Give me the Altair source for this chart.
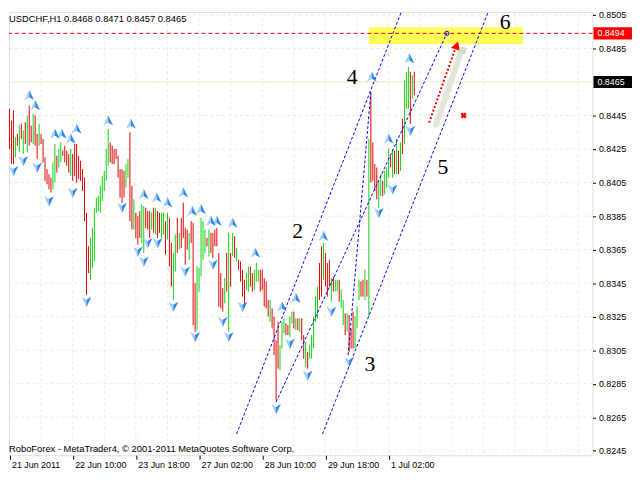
import altair as alt
import pandas as pd

# ---- bar data (price in pips, 0.0001) ----
highs = [
    8449, 8442, 8448, 8432, 8434, 8439, 8440, 8436, 8441, 8445,
    8451, 8439, 8446, 8445, 8434, 8440, 8434, 8431, 8420, 8413,
    8410, 8408, 8417, 8428, 8421, 8425, 8429, 8424, 8427, 8424,
    8422, 8425, 8422, 8428, 8428, 8421, 8418, 8413, 8408, 8387,
    8367, 8372, 8378, 8390, 8396, 8397, 8403, 8409, 8412, 8425,
    8437, 8429, 8427, 8425, 8425, 8421, 8413, 8413, 8412, 8416,
    8419, 8435, 8403, 8395, 8387, 8385, 8388, 8392, 8391, 8390,
    8388, 8388, 8387, 8390, 8390, 8388, 8387, 8387, 8387, 8382,
    8387, 8384, 8369, 8363, 8374, 8384, 8375, 8384, 8393, 8378,
    8377, 8375, 8382, 8381, 8345, 8355, 8354, 8384, 8382, 8377,
    8372, 8377, 8375, 8375, 8377, 8378, 8363, 8351, 8342, 8348,
    8363, 8375, 8363, 8375, 8373, 8366, 8359, 8358, 8353, 8347,
    8351, 8355, 8355, 8351, 8353, 8357, 8353, 8353, 8353, 8348,
    8346, 8335, 8335, 8330, 8325, 8311, 8322, 8308, 8322, 8324,
    8321, 8320, 8325, 8328, 8328, 8324, 8324, 8324, 8324, 8314,
    8310, 8304, 8308, 8314, 8325, 8337, 8343, 8357, 8367, 8369,
    8363, 8357, 8359, 8348, 8349, 8347, 8347, 8347, 8341, 8335,
    8327, 8327, 8326, 8318, 8328, 8325, 8331, 8347, 8346, 8347,
    8353, 8347, 8431, 8458, 8429, 8416, 8414, 8406, 8410, 8406,
    8412, 8414, 8425, 8421, 8425, 8424, 8431, 8424, 8429, 8443,
    8466, 8471, 8474, 8471, 8469, 8471,
]
lows = [
    8425, 8416, 8416, 8420, 8427, 8423, 8431, 8422, 8428, 8423,
    8427, 8429, 8428, 8427, 8419, 8427, 8428, 8417, 8406, 8404,
    8401, 8399, 8401, 8405, 8411, 8414, 8417, 8421, 8417, 8415,
    8411, 8409, 8406, 8409, 8405, 8407, 8406, 8400, 8382, 8338,
    8351, 8347, 8354, 8358, 8387, 8388, 8387, 8394, 8400, 8406,
    8415, 8417, 8416, 8416, 8419, 8408, 8396, 8393, 8396, 8402,
    8408, 8382, 8377, 8377, 8372, 8368, 8372, 8369, 8363, 8378,
    8377, 8372, 8377, 8375, 8374, 8372, 8375, 8372, 8374, 8362,
    8371, 8355, 8343, 8335, 8352, 8363, 8365, 8366, 8372, 8356,
    8365, 8359, 8369, 8320, 8316, 8317, 8340, 8349, 8359, 8363,
    8367, 8361, 8363, 8360, 8367, 8367, 8331, 8330, 8328, 8333,
    8340, 8316, 8343, 8361, 8360, 8358, 8353, 8346, 8337, 8331,
    8341, 8340, 8343, 8340, 8341, 8346, 8346, 8340, 8341, 8331,
    8330, 8325, 8322, 8318, 8302, 8275, 8294, 8293, 8306, 8315,
    8314, 8314, 8313, 8321, 8318, 8317, 8317, 8316, 8311, 8300,
    8295, 8294, 8300, 8300, 8306, 8322, 8324, 8335, 8337, 8347,
    8343, 8337, 8343, 8334, 8340, 8340, 8340, 8334, 8330, 8320,
    8314, 8316, 8304, 8306, 8306, 8306, 8318, 8335, 8337, 8337,
    8335, 8337, 8325, 8405, 8406, 8400, 8395, 8390, 8397, 8397,
    8398, 8402, 8408, 8414, 8408, 8410, 8410, 8410, 8412, 8422,
    8428, 8449, 8449, 8440, 8455, 8457,
]
dir_blocks = [
    "dddudududu", "dduddudddd", "dduuduuddd", "dudddddddd", "duuuuuuuuu",
    "uddddddddu", "udduddduud", "ddududduud", "udduududdd", "duddduuuuu",
    "dudddddddu", "dudududddd", "uudduuuddd", "ddudddduuu", "dduudududd",
    "uduuuuuddu", "ddduduuduu", "duddduuudd", "ududdddu" + "ud", "uuudududud",
    "uuudud",
]
dirs = list("".join(dir_blocks))

# fractal arrows (bar index, price in pips)
up_idx = [10, 13, 23, 26.5, 31, 34, 50, 61.5, 68, 74.5, 80, 88, 92.5, 97, 102, 105,
          113, 124.5, 138, 145, 159, 183.5, 192, 202.5]
up_val = [8457, 8451, 8434, 8434, 8431, 8437, 8442, 8440, 8398, 8396, 8393, 8399, 8388,
          8389, 8382, 8382, 8381, 8363, 8331, 8336, 8373, 8468, 8431, 8479]
dn_idx = [2, 7, 14, 20, 32, 39, 57, 65, 68, 70, 75, 83, 89, 94, 103, 108, 111, 118,
          135, 142, 151, 163, 172, 187, 194, 203]
dn_val = [8412, 8418, 8414, 8394, 8399, 8334, 8390, 8364, 8358, 8369, 8369, 8331, 8352,
          8313, 8356, 8322, 8313, 8331, 8270, 8309, 8290, 8328, 8298, 8387, 8401, 8436]

# channel lines
line_id = ["A", "A", "B", "B", "D", "D", "S", "S"]
line_x = [115, 199.5, 158.5, 243.5, 135, 221.5, 171.5, 183]
line_y = [8255, 8510, 8255, 8510, 8274, 8494, 8302, 8459]

# wave labels
wave_txt = ["2", "3", "4", "5", "6"]
wave_x = [146, 182.5, 173.5, 219.5, 251]
wave_y = [8376, 8297, 8468, 8414, 8501]

date_idx = [0, 32, 64, 96, 128, 160, 192]
date_lab = ["21 Jun 2011", "22 Jun 10:00", "23 Jun 18:00", "27 Jun 02:00",
            "28 Jun 10:00", "29 Jun 18:00", "1 Jul 02:00"]
grid_x = list(range(16, 296, 16))
y_ticks = [round(0.8245 + 0.002 * k, 4) for k in range(14)]

target_level = 0.8494
bid_level = 0.8465
header = "USDCHF,H1  0.8468 0.8471 0.8457 0.8465"
footer = "RoboForex - MetaTrader4, \u00a9 2001-2011 MetaQuotes Software Corp."

P = 10000.0
n = len(highs)
assert len(lows) == n and len(dirs) == n

bars = pd.DataFrame({"i": range(n), "high": [h / P for h in highs],
                     "low": [l / P for l in lows], "dir": dirs})

XD = [-0.25, 295.25]
YD = [0.824234, 0.850677]
xs = alt.Scale(domain=XD, nice=False, zero=False)
ys = alt.Scale(domain=YD, nice=False, zero=False)
FONT = "Liberation Sans"
GRID = "#efecd2"

label_expr = "[" + ",".join("'%s'" % d for d in date_lab) + "][round(datum.value / 32)]"
x_axis = alt.Axis(values=date_idx, labelExpr=label_expr, orient="bottom", grid=False,
                  domain=False, ticks=True, tickColor="black", tickSize=4,
                  labelAlign="left", labelBaseline="top", labelFont=FONT, labelFontSize=9,
                  labelColor="black", labelPadding=1, labelOffset=2, title=None,
                  labelFlush=False, labelOverlap=False, zindex=1)
# the bid level carries its own boxed label, so the axis skips it
axis_vals = [v for v in y_ticks if abs(v - bid_level) > 1e-6]
y_axis = alt.Axis(orient="right", values=axis_vals, format=".4f", grid=False,
                  domain=False, ticks=True, tickColor="black", tickSize=3,
                  labelFont=FONT, labelFontSize=9, labelColor="black", labelPadding=3,
                  title=None, labelOverlap=False, labelFlush=False, zindex=1)


def X(f):
    return alt.X(f, type="quantitative", scale=xs, axis=x_axis)


def Y(f):
    return alt.Y(f, type="quantitative", scale=ys, axis=y_axis)


vgrid = alt.Chart(pd.DataFrame({"gx": grid_x})).mark_rule(
    color=GRID, strokeDash=[3, 3]).encode(x=X("gx"))
hgrid = alt.Chart(pd.DataFrame({"gy": y_ticks})).mark_rule(
    color=GRID, strokeDash=[3, 3]).encode(y=Y("gy"))

bid = alt.Chart(pd.DataFrame({"p": [bid_level]})).mark_rule(
    color="#efeccc").encode(y=Y("p"))

zone = alt.Chart(pd.DataFrame({"x1": [182], "x2": [260], "y1": [0.84977], "y2": [0.84877]})
                 ).mark_rect(color="#ffff55").encode(x=X("x1"), x2="x2", y=Y("y1"), y2="y2")

bar_layer = alt.Chart(bars).mark_rule(strokeWidth=1, opacity=1).encode(
    x=X("i"), y=Y("low"), y2="high",
    color=alt.Color("dir:N", scale=alt.Scale(domain=["u", "d"], range=["#10d010", "#e00000"]),
                    legend=None))

target = alt.Chart(pd.DataFrame({"p": [target_level]})).mark_rule(
    color="#e00000", strokeDash=[4, 3]).encode(y=Y("p"))

ldf = pd.DataFrame({"id": line_id, "x": line_x, "y": [v / P for v in line_y]})
lines = alt.Chart(ldf).mark_line(clip=True, color="#0000ff", strokeDash=[3, 2],
                                 strokeWidth=1).encode(x=X("x"), y=Y("y"), detail="id:N")

band = alt.Chart(pd.DataFrame({"x": [216, 229], "y": [0.84395, 0.84841]})).mark_line(
    color="#e4e4da", strokeWidth=6, strokeCap="round").encode(x=X("x"), y=Y("y"))
red_arrow = alt.Chart(pd.DataFrame({"x": [212.5, 226], "y": [0.84407, 0.84858]})).mark_line(
    color="#ff0000", strokeDash=[2, 2]).encode(x=X("x"), y=Y("y"))
head = alt.Chart(pd.DataFrame({"x": [226.5], "y": [0.84868]})).mark_point(
    shape="triangle-up", filled=True, color="#ff0000", size=90, angle=19, opacity=1
).encode(x=X("x"), y=Y("y"))
ghost = alt.Chart(pd.DataFrame({"x": [229.5], "y": [0.84838]})).mark_point(
    filled=True, color="#cfe0c6", size=55, opacity=1).encode(x=X("x"), y=Y("y"))
red_x = alt.Chart(pd.DataFrame({"x": [230], "y": [0.84450]})).mark_point(
    shape="cross", angle=45, filled=True, color="#ff0000", size=40, opacity=1
).encode(x=X("x"), y=Y("y"))
ring = alt.Chart(pd.DataFrame({"x": [221.5], "y": [0.8494]})).mark_point(
    shape="circle", filled=False, color="#0000ff", size=18, strokeWidth=1, opacity=1
).encode(x=X("x"), y=Y("y"))

updf = pd.DataFrame({"x": up_idx, "y": [v / P for v in up_val]})
dndf = pd.DataFrame({"x": dn_idx, "y": [v / P for v in dn_val]})
LIGHT, DARK = "#a2cdf8", "#2f87ea"


def arrow(df, path, col):
    return alt.Chart(df).mark_point(shape=path, filled=True, color=col, size=120,
                                    opacity=1).encode(x=X("x"), y=Y("y"))


arrows = [
    arrow(updf, "M0,-1L-0.9,0.9L0,0.35Z", LIGHT),
    arrow(updf, "M0,-1L0.9,0.9L0,0.35Z", DARK),
    arrow(dndf, "M0,1L-0.9,-0.9L0,-0.35Z", LIGHT),
    arrow(dndf, "M0,1L0.9,-0.9L0,-0.35Z", DARK),
]

waves = alt.Chart(pd.DataFrame({"t": wave_txt, "x": wave_x, "y": [v / P for v in wave_y]})
                  ).mark_text(font="Liberation Serif", fontSize=22, color="black",
                              align="center", baseline="middle").encode(
    x=X("x"), y=Y("y"), text="t:N")

head_txt = alt.Chart(pd.DataFrame({"t": [header]})).mark_text(
    font=FONT, fontSize=9.5, color="black", align="left", baseline="alphabetic"
).encode(x=alt.value(0), y=alt.value(10), text="t:N")
foot_txt = alt.Chart(pd.DataFrame({"t": [footer]})).mark_text(
    font=FONT, fontSize=9.5, color="black", align="left", baseline="alphabetic"
).encode(x=alt.value(0), y=alt.value(446), text="t:N")

pbox = pd.DataFrame({"p": [target_level, bid_level], "c": ["#ff0000", "#000000"],
                     "lab": ["%.4f" % target_level, "%.4f" % bid_level]})
pbox["y1"] = pbox["p"] + 0.00036
pbox["y2"] = pbox["p"] - 0.00036
boxes = alt.Chart(pbox).mark_rect().encode(
    x=alt.value(592), x2=alt.value(631), y=Y("y1"), y2="y2",
    color=alt.Color("c:N", scale=None))
box_txt = alt.Chart(pbox).mark_text(font=FONT, fontSize=9, color="white", align="left",
                                    baseline="middle").encode(
    x=alt.value(596), y=Y("p"), text="lab:N")

chart = alt.layer(
    vgrid, hgrid, bid, zone, bar_layer, target, lines, band, red_arrow, head, ghost, red_x,
    ring, *arrows, waves, head_txt, foot_txt, boxes, box_txt
).properties(
    width=591, height=449,
    padding={"left": 1, "top": 1, "right": 40, "bottom": 18},
    autosize=alt.AutoSizeParams(type="none"),
).configure_view(stroke="black", strokeWidth=1, fill="white").configure(background="white")

chart.save("out.html", embed_options={"renderer": "svg", "actions": False})
